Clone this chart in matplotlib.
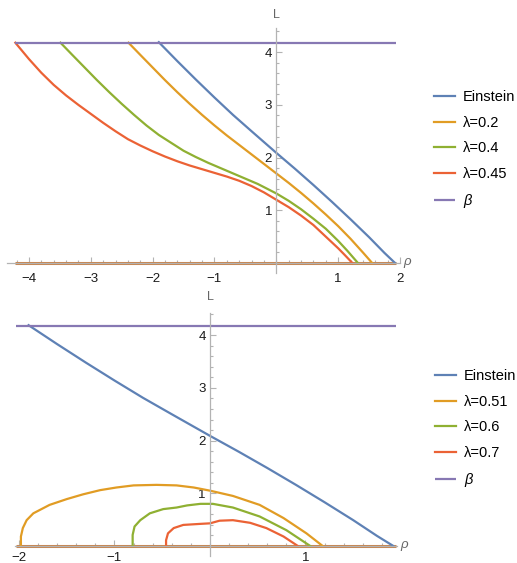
# Two stacked L(rho) plots in Mathematica style, legend on the right

import matplotlib
matplotlib.use('Agg')
import matplotlib.pyplot as plt
import numpy as np

plt.rcParams['font.family'] = ['Liberation Sans', 'DejaVu Sans']
plt.rcParams['mathtext.fontset'] = 'custom'
plt.rcParams['mathtext.it'] = 'Liberation Sans:italic'
plt.rcParams['mathtext.rm'] = 'Liberation Sans'

# ---- data ----
beta = 4.18

# Einstein curve (same in both panels)
rho_ein = [-1.9, -1.6, -1.3, -1.0, -0.7, -0.4, 0.0, 0.3, 0.6, 0.9, 1.2, 1.5,
           1.75, 1.92]
L_ein = [4.19, 3.83, 3.48, 3.14, 2.81, 2.50, 2.09, 1.79, 1.48, 1.16, 0.83,
         0.49, 0.19, 0.0]

# top panel
top_range = [-4.23, 1.94]
rho_02 = [-2.39, -2.2, -2.0, -1.8, -1.6, -1.4, -1.2, -1.0, -0.8, -0.6, -0.4,
          -0.2, 0.0, 0.2, 0.4, 0.6, 0.8, 1.0, 1.2, 1.4, 1.55]
L_02 = [4.18, 3.95, 3.71, 3.47, 3.24, 3.02, 2.81, 2.61, 2.42, 2.24, 2.06,
        1.88, 1.70, 1.52, 1.33, 1.13, 0.92, 0.70, 0.46, 0.20, 0.0]
rho_04 = [-3.49, -3.3, -3.1, -2.9, -2.7, -2.5, -2.3, -2.1, -1.9, -1.7, -1.5,
          -1.3, -1.1, -0.9, -0.7, -0.5, -0.3, -0.1, 0.0, 0.2, 0.4, 0.6, 0.8,
          1.0, 1.15, 1.32]
L_04 = [4.18, 3.95, 3.71, 3.47, 3.24, 3.02, 2.81, 2.61, 2.43, 2.28, 2.13,
        2.01, 1.90, 1.80, 1.70, 1.60, 1.50, 1.38, 1.32, 1.18, 1.02, 0.84, 0.65,
        0.42, 0.23, 0.0]
rho_045 = [-4.22, -4.0, -3.8, -3.6, -3.4, -3.2, -3.0, -2.8, -2.6, -2.4, -2.2,
           -2.0, -1.8, -1.6, -1.4, -1.2, -1.0, -0.8, -0.6, -0.4, -0.2, 0.0,
           0.2, 0.4, 0.6, 0.8, 1.0, 1.1, 1.23]
L_045 = [4.18, 3.87, 3.61, 3.38, 3.18, 3.00, 2.83, 2.66, 2.50, 2.35, 2.23,
         2.12, 2.02, 1.93, 1.85, 1.78, 1.71, 1.64, 1.56, 1.46, 1.34, 1.20,
         1.06, 0.90, 0.72, 0.50, 0.28, 0.16, 0.0]

# bottom panel
bot_range = [-2.03, 1.95]
rho_051 = [-1.98, -1.98, -1.96, -1.92, -1.85, -1.68, -1.5, -1.33, -1.15, -0.98,
           -0.8, -0.56, -0.35, -0.17, 0.0, 0.24, 0.52, 0.77, 1.01, 1.18]
L_051 = [0.0, 0.18, 0.34, 0.49, 0.62, 0.78, 0.89, 0.98, 1.06, 1.11,
         1.15, 1.16, 1.15, 1.11, 1.05, 0.95, 0.78, 0.53, 0.24, 0.0]
rho_06 = [-0.81, -0.81, -0.79, -0.73, -0.63, -0.49, -0.35, -0.24, -0.10, 0.03,
          0.24, 0.52, 0.80, 1.05]
L_06 = [0.0, 0.21, 0.37, 0.49, 0.62, 0.70, 0.73, 0.77, 0.80, 0.80,
        0.73, 0.56, 0.30, 0.0]
rho_07 = [-0.46, -0.46, -0.44, -0.38, -0.28, -0.10, 0.0, 0.10, 0.24, 0.42,
          0.59, 0.77, 0.92]
L_07 = [0.0, 0.11, 0.24, 0.34, 0.40, 0.42, 0.43, 0.48, 0.49, 0.44,
        0.34, 0.18, 0.0]

# Mathematica default colours
c_blue = '#5E81B5'
c_orange = '#E19C24'
c_green = '#8FB032'
c_red = '#EB6235'
c_purple = '#8778B3'
c_zero = '#C8844C'
c_axis = '#b3b3b3'

W, H = 517, 563


def style_axes(ax, xmaj, ymaj, top_pad, xpad):
    ''' axes through the origin, ticks pointing inward, Mathematica look '''
    for side in ('top', 'right'):
        ax.spines[side].set_visible(False)
    for side in ('left', 'bottom'):
        ax.spines[side].set_position(('data', 0))
        ax.spines[side].set_color(c_axis)
        ax.spines[side].set_linewidth(0.9)
    ax.set_xticks(xmaj)
    ax.set_yticks(ymaj)
    x0, x1 = ax.get_xlim()
    y0, y1 = ax.get_ylim()
    ax.set_xticks(np.arange(np.ceil(x0 * 5) / 5, x1, 0.2), minor=True)
    ax.set_yticks(np.arange(np.ceil(y0 * 5) / 5, y1, 0.2), minor=True)
    ax.tick_params(which='both', direction='in', color=c_axis, width=0.8,
                   labelsize=9.5, labelcolor='#1a1a1a')
    ax.tick_params(which='major', length=4.5)
    ax.tick_params(which='minor', length=2.5)
    ax.tick_params(axis='x', pad=xpad)
    ax.tick_params(axis='y', pad=3)
    ax.annotate('L', xy=(0, 1), xycoords=('data', 'axes fraction'),
                xytext=(0, top_pad), textcoords='offset points',
                ha='center', va='center', color='#666666', fontsize=9)
    ax.annotate(r'$\rho$', xy=(1, 0), xycoords=('axes fraction', 'data'),
                xytext=(2, 0), textcoords='offset points',
                ha='left', va='center', color='#666666', fontsize=9.5)


def add_axes_px(fig, left, right, top, bottom):
    return fig.add_axes([left / W, 1 - bottom / H,
                         (right - left) / W, (bottom - top) / H])


fig = plt.figure(figsize=(W / 100, H / 100), dpi=100)
lw = 1.6
leg_kw = dict(loc='upper left', frameon=False, fontsize=10.5,
              handlelength=1.45, handletextpad=0.54, labelspacing=0.79)

# ---- top panel ----
ax1 = add_axes_px(fig, 7, 400, 28, 273)
ax1.set_xlim((7 - 277) / 62, (400 - 277) / 62)
ax1.set_ylim((263 - 273) / 52.7, (263 - 28) / 52.7)
ax1.plot(top_range, [0, 0], color=c_zero, lw=2.2, solid_capstyle='butt')
ax1.plot(rho_ein, L_ein, color=c_blue, lw=lw, label='Einstein')
ax1.plot(rho_02, L_02, color=c_orange, lw=lw, label='λ=0.2')
ax1.plot(rho_04, L_04, color=c_green, lw=lw, label='λ=0.4')
ax1.plot(rho_045, L_045, color=c_red, lw=lw, label='λ=0.45')
ax1.plot(top_range, [beta, beta], color=c_purple, lw=lw, label=r'$\beta$',
         solid_capstyle='butt')
style_axes(ax1, [-4, -3, -2, -1, 1, 2], [1, 2, 3, 4], 9.5, 7)

fig.legend(handles=ax1.get_lines()[1:],
           bbox_to_anchor=(421 / W, 1 - 77 / H), **leg_kw)

# ---- bottom panel ----
ax2 = add_axes_px(fig, 15, 397, 313, 556)
ax2.set_xlim((15 - 210) / 95.5, (397 - 210) / 95.5)
ax2.set_ylim((546 - 556) / 52.7, (546 - 313) / 52.7)
ax2.plot(bot_range, [0, 0], color=c_zero, lw=2.2, solid_capstyle='butt')
ax2.plot(rho_ein, L_ein, color=c_blue, lw=lw, label='Einstein')
ax2.plot(rho_051, L_051, color=c_orange, lw=lw, label='λ=0.51')
ax2.plot(rho_06, L_06, color=c_green, lw=lw, label='λ=0.6')
ax2.plot(rho_07, L_07, color=c_red, lw=lw, label='λ=0.7')
ax2.plot(bot_range, [beta, beta], color=c_purple, lw=lw, label=r'$\beta$',
         solid_capstyle='butt')
style_axes(ax2, [-2, -1, 1], [1, 2, 3, 4], 11.5, 4)

fig.legend(handles=ax2.get_lines()[1:],
           bbox_to_anchor=(422 / W, 1 - 356 / H), **leg_kw)

fig.savefig('out.png', dpi=100)
